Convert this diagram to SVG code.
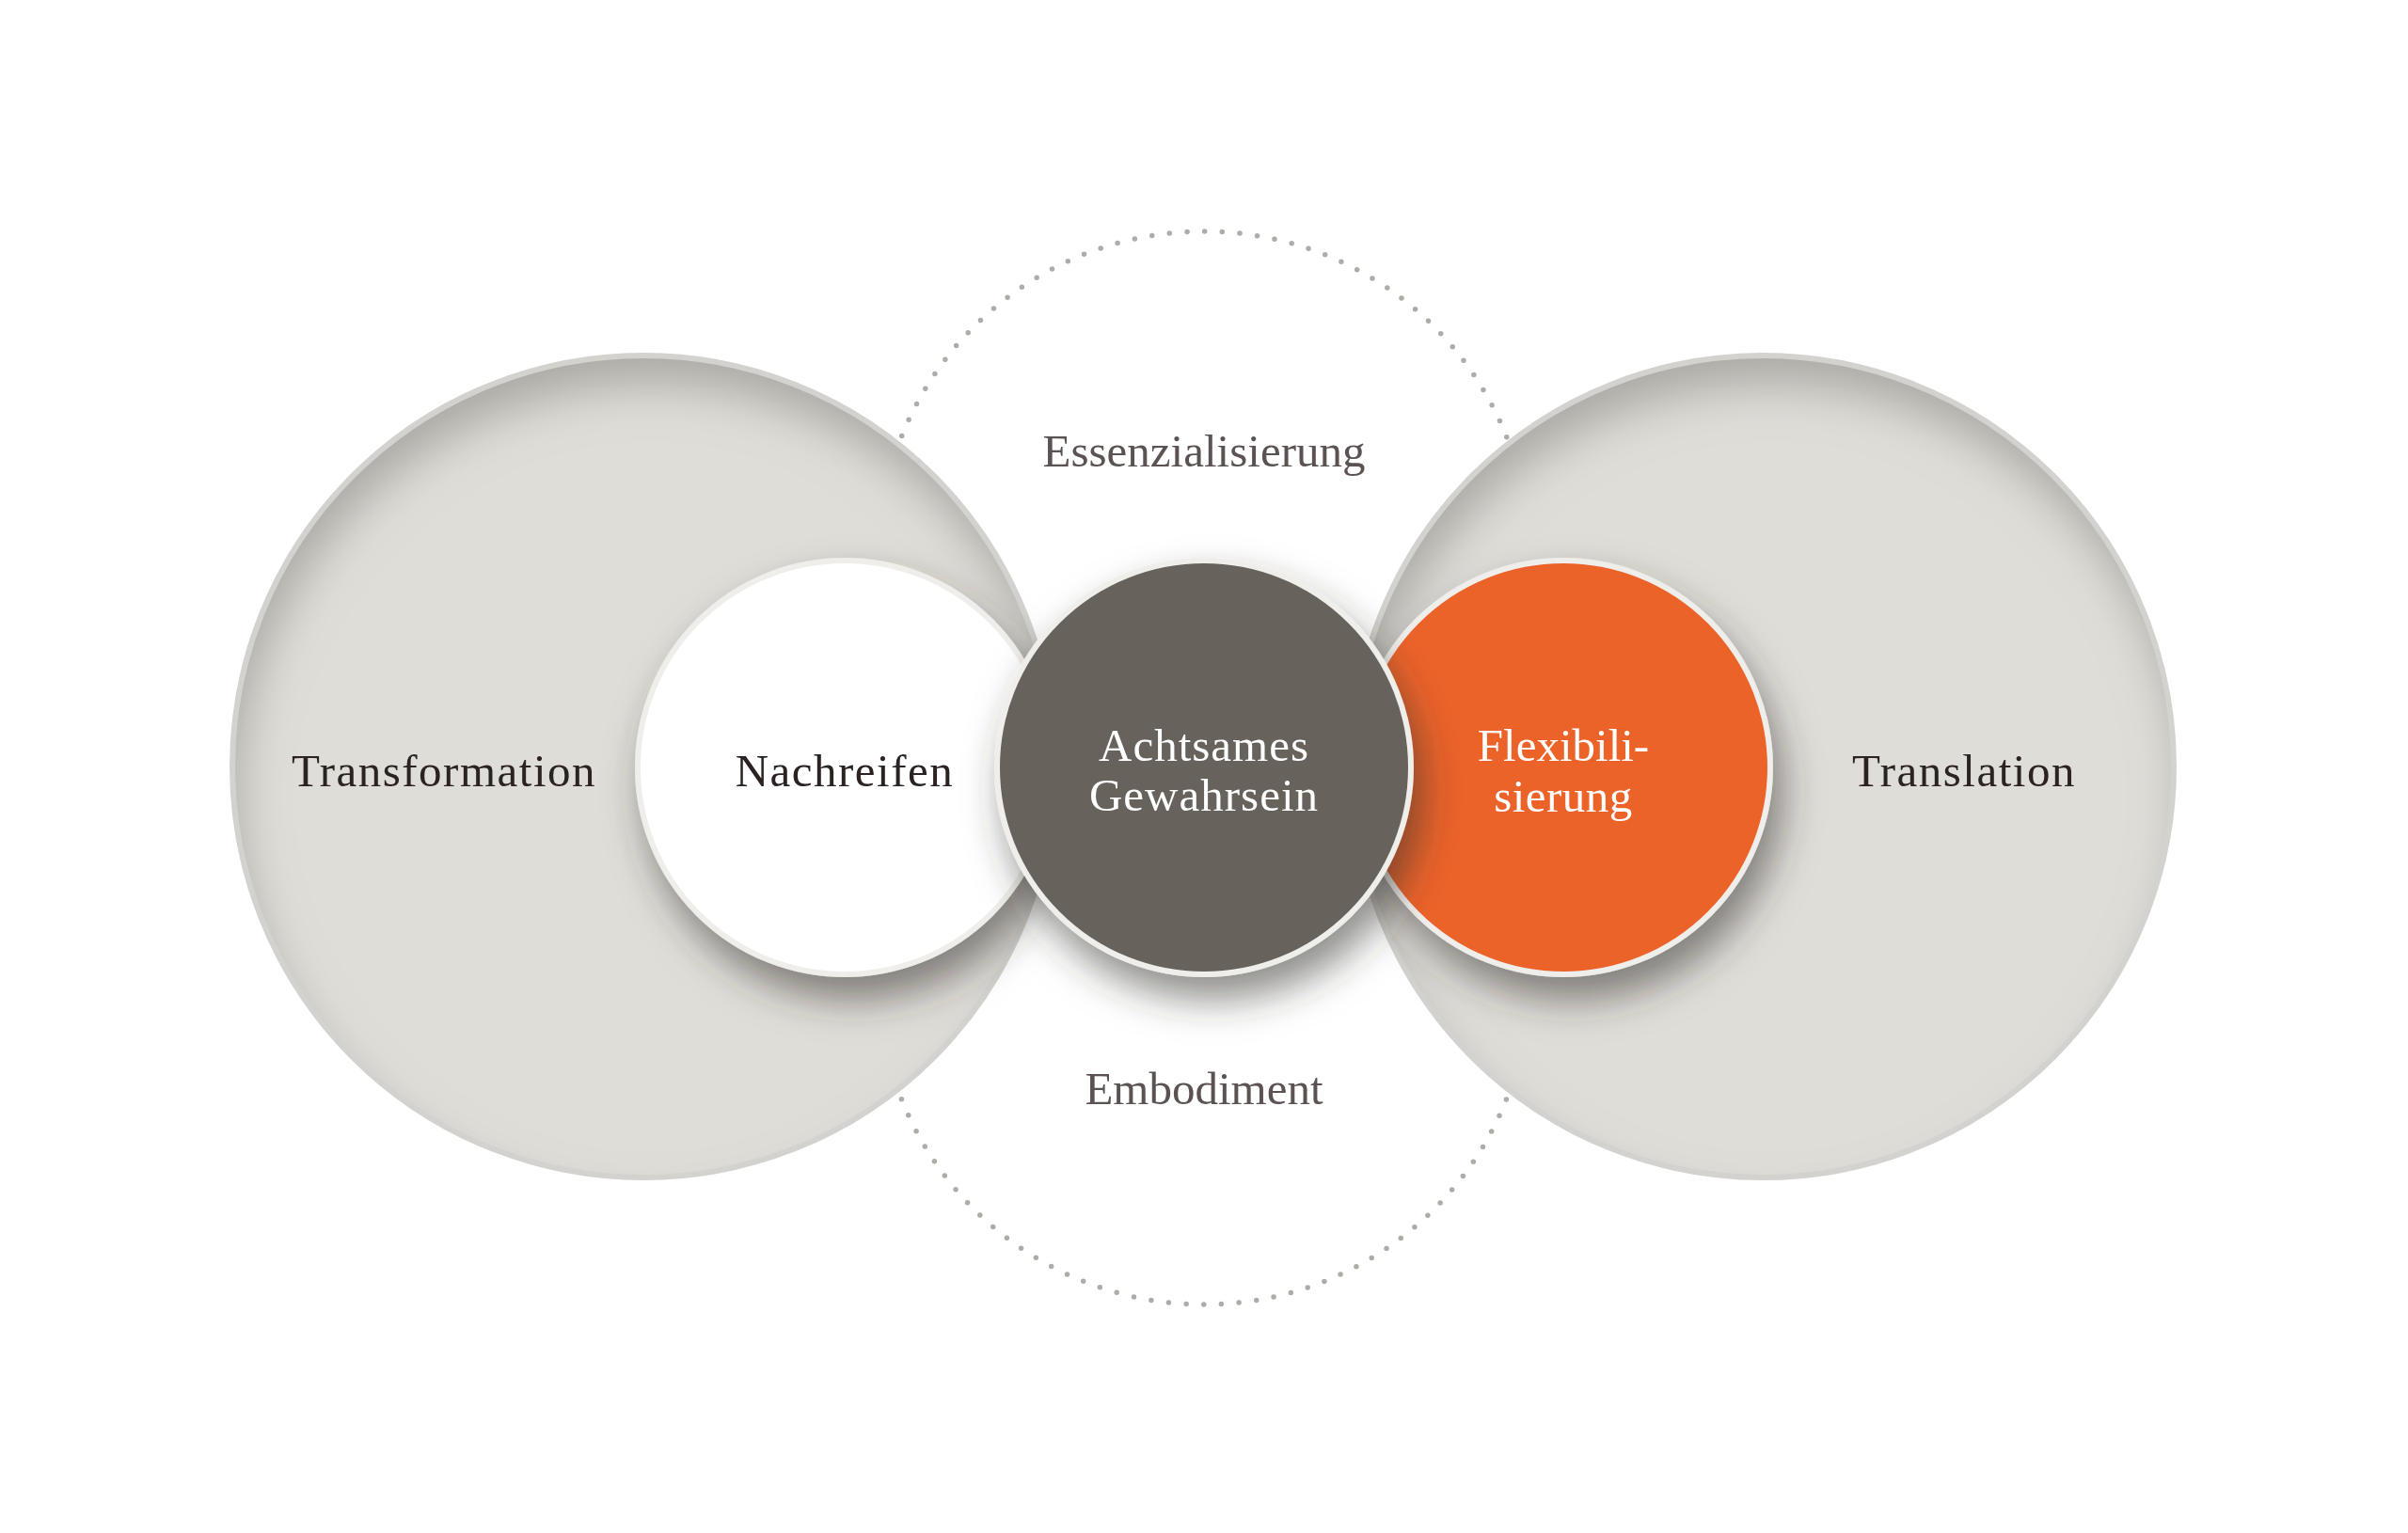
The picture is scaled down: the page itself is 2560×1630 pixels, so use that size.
<svg xmlns="http://www.w3.org/2000/svg" width="2560" height="1630" viewBox="0 0 2560 1630">
<defs>
<style>
.big{fill:#dfddd8}
.ring{fill:none;stroke:#d3d2ce;stroke-width:6}
.small{stroke:#f0eeeb;stroke-width:6}
.lbl{font-family:"Liberation Serif","Times New Roman",serif;font-size:49px;text-anchor:middle}
.dark{fill:#2b2321;letter-spacing:1.5px}
.gray{fill:#5b5351}
.white{fill:#ffffff;letter-spacing:1px}
.dots{fill:none;stroke:#adaca8;stroke-width:5.5;stroke-linecap:round;stroke-dasharray:0 18.7415}
</style>
<filter id="inner" x="-5%" y="-5%" width="110%" height="110%">
<feGaussianBlur in="SourceAlpha" stdDeviation="24" result="b"/>
<feOffset in="b" dx="8" dy="32" result="o"/>
<feComposite in="SourceAlpha" in2="o" operator="out" result="edge"/>
<feFlood flood-color="#87857f" flood-opacity="0.65"/>
<feComposite in2="edge" operator="in" result="sh"/>
<feMerge><feMergeNode in="SourceGraphic"/><feMergeNode in="sh"/></feMerge>
</filter>
<filter id="drop" x="-30%" y="-30%" width="160%" height="170%">
<feGaussianBlur in="SourceAlpha" stdDeviation="20" result="b"/>
<feOffset in="b" dx="10" dy="24" result="o"/>
<feFlood flood-color="#35312c" flood-opacity="0.55"/>
<feComposite in2="o" operator="in" result="sh"/>
<feMerge><feMergeNode in="sh"/><feMergeNode in="SourceGraphic"/></feMerge>
</filter>
</defs>
<rect width="2560" height="1630" fill="#ffffff"/>
<g id="connectors">
<circle class="dots" cx="1280" cy="592" r="346"/>
<circle class="dots" cx="1280" cy="1041" r="346"/>
</g>
<g id="transformation">
<circle class="big" cx="684" cy="815" r="436" filter="url(#inner)"/>
<circle class="ring" cx="684" cy="815" r="437"/>
<text class="lbl dark" x="472" y="836">Transformation</text>
</g>
<g id="translation">
<circle class="big" cx="1874" cy="815" r="436" filter="url(#inner)"/>
<circle class="ring" cx="1874" cy="815" r="437"/>
<text class="lbl dark" x="2088" y="836">Translation</text>
</g>
<g id="essenzialisierung">
<text class="lbl gray" x="1280" y="496">Essenzialisierung</text>
</g>
<g id="embodiment">
<text class="lbl gray" x="1280" y="1174">Embodiment</text>
</g>
<g id="nachreifen">
<circle class="small" cx="898" cy="816" r="220" fill="#ffffff" filter="url(#drop)"/>
<text class="lbl dark" x="898" y="836">Nachreifen</text>
</g>
<g id="flexibilisierung">
<circle class="small" cx="1662" cy="816" r="220" fill="#ec632b" filter="url(#drop)"/>
<text class="lbl white" x="1662" y="809" style="letter-spacing:0">Flexibili-</text>
<text class="lbl white" x="1662" y="863" style="letter-spacing:0.5px">sierung</text>
</g>
<g id="achtsames-gewahrsein">
<circle class="small" cx="1280" cy="816" r="220" fill="#67625c" filter="url(#drop)"/>
<text class="lbl white" x="1280" y="809">Achtsames</text>
<text class="lbl white" x="1280" y="862">Gewahrsein</text>
</g>
</svg>
